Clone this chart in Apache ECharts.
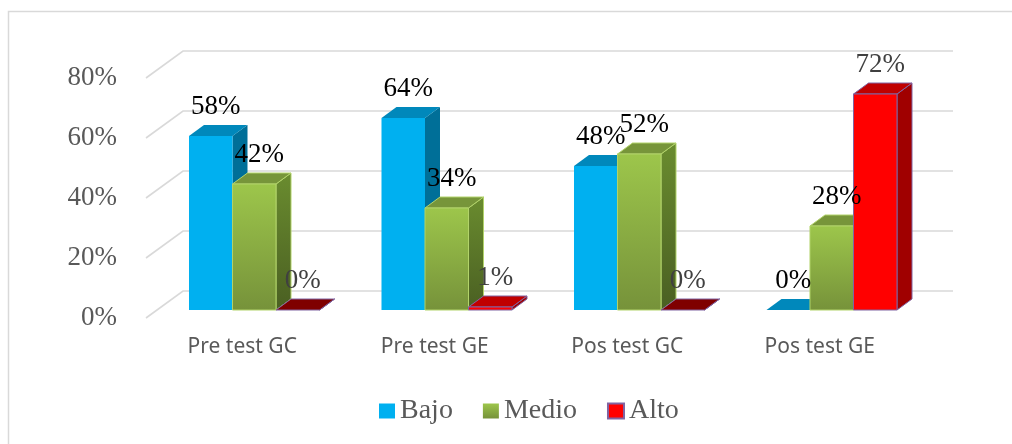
<!DOCTYPE html>
<html>
<head>
<meta charset="utf-8">
<script src="https://cdn.jsdelivr.net/npm/echarts@6/dist/echarts.min.js"></script>
<style>
  html, body { margin: 0; padding: 0; background: #fff; }
  #chart { width: 1012px; height: 444px; }
</style>
</head>
<body>
<div id="chart"></div>
<script>
var categories = ['Pre test GC', 'Pre test GE', 'Pos test GC', 'Pos test GE'];
var bajo = [0.58, 0.64, 0.48, 0];
var medio = [0.42, 0.34, 0.52, 0.28];
var alto = [0, 0.01, 0, 0.72];
var yTicks = [0, 0.2, 0.4, 0.6, 0.8];

var myChart = echarts.init(document.getElementById('chart'));

// fake 3d: bars sit a bit behind the front plane, back wall further back
var PLANE = [12, -8];
var DEPTH = [15, -11];
var WALL = [37, -27];

var greenFront = new echarts.graphic.LinearGradient(0, 0, 0, 1, [{offset: 0, color: '#9dc64b'}, {offset: 1, color: '#76923a'}]);
var looks = [
    {front: '#00b0f0', top: '#0088bb', side: '#006f98', flat: '#0088bb', border: null, label: '#000'},
    {front: greenFront,
     top: '#77953a', side: new echarts.graphic.LinearGradient(0, 0, 0, 1, [{offset: 0, color: '#6a8c2f'}, {offset: 1, color: '#4a5f22'}]),
     flat: '#77953a', border: '#b2d36a', label: '#000'},
    {front: '#ff0000', top: '#c00000', side: '#a00000', flat: '#7f0000', border: '#8064a2', label: '#404040'}
];

function barItem(s) {
    return function (params, api) {
        var i = api.value(0), v = api.value(1);
        var bw = api.size([1, 0])[0];
        var base = api.coord([i, 0]);
        var topPt = api.coord([i, v]);
        var w = bw * 0.226;
        var x0 = base[0] + PLANE[0] - 1.5 * w + s * w;
        var x1 = x0 + w;
        var yb = base[1] + PLANE[1];
        var yt = topPt[1] + PLANE[1];
        var dx = DEPTH[0], dy = DEPTH[1];
        var lk = looks[s];
        var st = function (fill) {
            var o = {fill: fill};
            if (lk.border) { o.stroke = lk.border; o.lineWidth = 1; }
            return o;
        };
        var kids = [];
        kids.push({type: 'polygon', z2: s * 10 + 1,
            shape: {points: [[x1, yb], [x1 + dx, yb + dy], [x1 + dx, yt + dy], [x1, yt]]},
            style: st(lk.side)});
        kids.push({type: 'polygon', z2: s * 10 + 2,
            shape: {points: [[x0, yt], [x1, yt], [x1 + dx, yt + dy], [x0 + dx, yt + dy]]},
            style: st(v === 0 ? lk.flat : lk.top)});
        if (v > 0) {
            kids.push({type: 'polygon', z2: s * 10 + 3,
                shape: {points: [[x0, yb], [x1, yb], [x1, yt], [x0, yt]]},
                style: st(lk.front)});
        }
        kids.push({type: 'text', z2: 100,
            style: {text: Math.round(v * 100) + '%', x: (x0 + x1) / 2 + 5, y: yt - 29,
                align: 'center', verticalAlign: 'middle',
                font: '27px "Liberation Serif"', fill: lk.label}});
        return {type: 'group', children: kids};
    };
}

function wallItem(params, api) {
    var v = api.value(0);
    var bw = api.size([1, 0])[0];
    var p = api.coord([0, v]);
    var fx = p[0] - bw / 2, fy = p[1];
    var bx = fx + WALL[0], by = fy + WALL[1];
    return {type: 'polyline',
        shape: {points: [[fx, fy], [bx, by], [bx + bw * categories.length, by]]},
        style: {stroke: '#d9d9d9', lineWidth: 1.6, fill: null}};
}

var names = ['Bajo', 'Medio', 'Alto'];
var sets = [bajo, medio, alto];

var series = [{
    type: 'custom',
    name: 'wall',
    silent: true,
    z: 1,
    renderItem: wallItem,
    data: yTicks.map(function (t) { return [t]; })
}];
sets.forEach(function (vals, s) {
    series.push({
        type: 'custom',
        name: names[s],
        z: 2,
        itemStyle: {color: ['#00b0f0', '#8db441', '#ff0000'][s]},
        renderItem: barItem(s),
        data: vals.map(function (v, i) { return [i, v]; })
    });
});

option = {
    animation: false,
    backgroundColor: '#fff',
    graphic: [{
        type: 'rect', silent: true,
        shape: {x: 8.5, y: 11.5, width: 1100, height: 600},
        style: {fill: null, stroke: '#d9d9d9', lineWidth: 1.5}
    }],
    legend: {
        data: [
            {name: 'Bajo', itemStyle: {color: '#00b0f0'}},
            {name: 'Medio', itemStyle: {color: greenFront}},
            {name: 'Alto', itemStyle: {color: '#ff0000', borderColor: '#8064a2', borderWidth: 2}}
        ],
        icon: 'rect',
        left: 374,
        top: 392,
        itemWidth: 16,
        itemHeight: 15,
        itemGap: 30,
        textStyle: {fontFamily: 'Liberation Serif', fontSize: 28, color: '#595959'}
    },
    grid: {left: 146, top: 78, width: 770, height: 240},
    xAxis: {
        type: 'category',
        data: categories,
        axisLine: {show: false},
        axisTick: {show: false},
        axisLabel: {margin: 19, color: '#595959', fontSize: 21, fontFamily: 'Noto Sans'}
    },
    yAxis: {
        type: 'value',
        min: 0,
        max: 0.8,
        interval: 0.2,
        splitLine: {show: false},
        axisLine: {show: false},
        axisTick: {show: false},
        axisLabel: {
            margin: 29,
            color: '#595959',
            fontSize: 27,
            fontFamily: 'Liberation Serif',
            formatter: function (v) { return Math.round(v * 100) + '%'; }
        }
    },
    series: series
};

myChart.setOption(option);
</script>
</body>
</html>
